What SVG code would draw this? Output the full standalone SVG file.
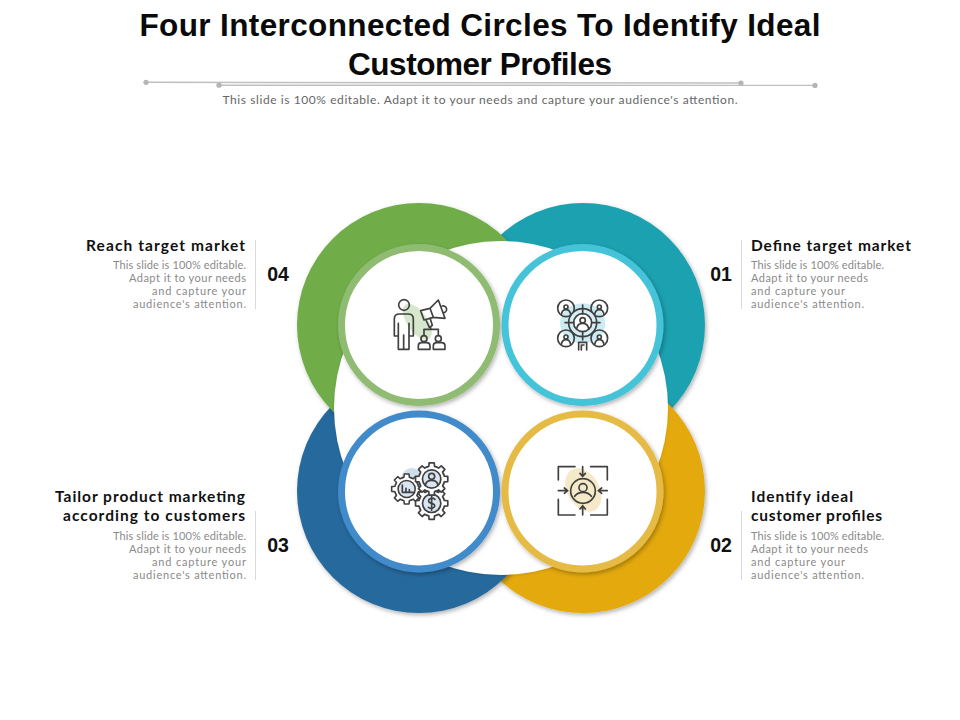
<svg xmlns="http://www.w3.org/2000/svg" xmlns:xlink="http://www.w3.org/1999/xlink" width="960" height="720" viewBox="0 0 960 720">
<style>
text{font-family:"Lato","Liberation Sans",sans-serif}
.title{font-family:"Liberation Sans",Arial,sans-serif;font-weight:700;font-size:31.5px;fill:#0a0a0a;text-anchor:middle}
.sub{font-size:12px;fill:#666;text-anchor:middle}
.h{font-weight:700;font-size:15.5px;fill:#111}
.b{font-size:11px;fill:#8a8a8a}
.n{font-family:"Liberation Sans",Arial,sans-serif;font-weight:700;font-size:19.5px;fill:#111;text-anchor:middle}
.e{text-anchor:end}
.big{filter:url(#s)}
.ring{fill:#fff;stroke-width:7;filter:url(#s)}
.ic{fill:none;stroke:#404040;stroke-width:5;stroke-linejoin:round;stroke-linecap:round}
.rule{stroke:#bfbfbf;stroke-width:1.4;fill:none}
.dot{fill:#b5b5b5}
.sep{stroke:#d9d9d9;stroke-width:1}
</style>
<defs>
<filter id="s" x="-15%" y="-15%" width="130%" height="130%"><feDropShadow dx="1.5" dy="2" stdDeviation="2" flood-color="#000" flood-opacity=".3"/></filter>
<filter id="w" x="-10%" y="-10%" width="120%" height="120%"><feDropShadow dx="0" dy="1" stdDeviation="1.5" flood-color="#000" flood-opacity=".12"/></filter>
<g id="gear">
<circle r="37" fill="#fff" stroke="none"/>
<g id="tooth-set">
<path id="t" d="M-14.5-35.1L-8.5-37L-7.5-47.4L7.5-47.4L8.5-37L14.5-35.1" fill="#fff"/>
<use xlink:href="#t" href="#t" transform="rotate(45)"/>
<use xlink:href="#t" href="#t" transform="rotate(90)"/>
<use xlink:href="#t" href="#t" transform="rotate(135)"/>
<use xlink:href="#t" href="#t" transform="rotate(180)"/>
<use xlink:href="#t" href="#t" transform="rotate(225)"/>
<use xlink:href="#t" href="#t" transform="rotate(270)"/>
<use xlink:href="#t" href="#t" transform="rotate(315)"/>
</g>
<circle r="27" fill="#d9e5f0"/>
</g>
</defs>
<rect width="960" height="720" fill="#fff"/>
<g id="header">
<text class="title" x="480" y="36" textLength="681" lengthAdjust="spacing">Four Interconnected Circles To Identify Ideal</text>
<text class="title" x="480" y="75" textLength="264" lengthAdjust="spacing">Customer Profiles</text>
<path class="rule" d="M146 82.3L741 83M219 85.2L815 85.4"/>
<circle class="dot" cx="146" cy="82.3" r="2.6"/><circle class="dot" cx="219" cy="85.2" r="2.6"/><circle class="dot" cx="741" cy="83" r="2.6"/><circle class="dot" cx="815" cy="85.4" r="2.6"/>
<text class="sub" x="480" y="104" textLength="515" lengthAdjust="spacing">This slide is 100% editable. Adapt it to your needs and capture your audience's attention.</text>
</g>
<g id="backdrop">
<circle class="big" cx="583" cy="325" r="122" fill="#1fa1b1"/>
<circle class="big" cx="583" cy="491" r="122" fill="#e3a911"/>
<circle class="big" cx="419" cy="491" r="122" fill="#26699d"/>
<circle class="big" cx="419" cy="325" r="122" fill="#6fad48"/>
<circle cx="501" cy="408" r="167" fill="#fff" filter="url(#w)"/>
</g>
<g id="node-04">
<circle class="ring" cx="419" cy="325" r="77.5" stroke="#8fbc72"/>
<g transform="translate(330 240) scale(.3333)">
<ellipse cx="262" cy="245" rx="30" ry="62" transform="rotate(-35 262 245)" fill="#d6e7cc"/>
<g class="ic">
<circle cx="222" cy="195" r="16"/>
<path d="M193 288V237Q193 222 208 222H235Q250 222 250 237V288H237V328H205V288ZM205 250V288M237 250V288M221 285V328"/>
<path d="M272 212L300 205L310 232L282 240ZM300 205L325 180L345 235L310 232M337 198A10 10 0 0 1 342 218M288 240L298 262L307 256L300 234"/>
<path d="M302 262V268M282 285V268H325V285"/>
<circle cx="282" cy="296" r="9"/><circle cx="325" cy="296" r="9"/>
<path d="M265 328V318Q265 308 275 308H290Q300 308 300 318V328ZM310 328V318Q310 308 320 308H335Q345 308 345 318V328Z"/>
</g></g>
<text class="h e" x="245" y="251" textLength="159" lengthAdjust="spacing">Reach target market</text>
<g class="b e">
<text x="246" y="269" textLength="133" lengthAdjust="spacing">This slide is 100% editable.</text>
<text x="246" y="282" textLength="117" lengthAdjust="spacing">Adapt it to your needs</text>
<text x="246" y="295" textLength="94" lengthAdjust="spacing">and capture your</text>
<text x="246" y="308" textLength="113" lengthAdjust="spacing">audience's attention.</text>
</g>
<line class="sep" x1="255.5" y1="240" x2="255.5" y2="309"/>
<text class="n" x="278" y="281">04</text>
</g>
<g id="node-01">
<circle class="ring" cx="582.5" cy="325" r="77.5" stroke="#45c3d8"/>
<g transform="translate(500 240) scale(.3333)">
<ellipse cx="248" cy="250" rx="68" ry="60" fill="#cdebf2"/>
<g class="ic">
<circle cx="198" cy="205" r="25"/><circle cx="298" cy="205" r="25"/><circle cx="198" cy="295" r="25"/><circle cx="298" cy="295" r="25"/>
<circle cx="198" cy="201" r="6"/><circle cx="298" cy="201" r="6"/><circle cx="198" cy="291" r="6"/><circle cx="298" cy="291" r="6"/>
<path d="M184 224Q186 209 198 209Q210 209 212 224M284 224Q286 209 298 209Q310 209 312 224M184 314Q186 299 198 299Q210 299 212 314M284 314Q286 299 298 299Q310 299 312 314"/>
<circle cx="248" cy="248" r="42" fill="#d5eef4"/>
<circle cx="248" cy="248" r="27" fill="#fff"/>
<circle cx="248" cy="241" r="8"/>
<path d="M230 267Q232 250 248 250Q264 250 266 267"/>
<path d="M248 195V222M248 275V300M195 248H222M275 248H300"/>
<path d="M236 330V307H260V330M244 330V315H252"/>
</g></g>
<text class="h" x="751" y="251" textLength="160" lengthAdjust="spacing">Define target market</text>
<g class="b">
<text x="751" y="269" textLength="133" lengthAdjust="spacing">This slide is 100% editable.</text>
<text x="751" y="282" textLength="117" lengthAdjust="spacing">Adapt it to your needs</text>
<text x="751" y="295" textLength="94" lengthAdjust="spacing">and capture your</text>
<text x="751" y="308" textLength="113" lengthAdjust="spacing">audience's attention.</text>
</g>
<line class="sep" x1="741.5" y1="240" x2="741.5" y2="309"/>
<text class="n" x="721" y="281">01</text>
</g>
<g id="node-03">
<circle class="ring" cx="419" cy="491.5" r="77.5" stroke="#428bca"/>
<g transform="translate(330 405) scale(.3333)">
<ellipse cx="245" cy="225" rx="32" ry="36" fill="#cfdeeb"/>
<g class="ic">
<use href="#gear" xlink:href="#gear" transform="translate(230 252) scale(.95)"/>
<use href="#gear" xlink:href="#gear" transform="translate(305 295) scale(1.02)"/>
<use href="#gear" xlink:href="#gear" transform="translate(305 222) scale(1.02)"/>
<path d="M217 240V262H250M228 262V250M238 262V254"/>
<circle cx="305" cy="214" r="9"/>
<path d="M286 241Q288 226 305 226Q322 226 324 241"/>
<path d="M315 283Q305 276 297 284Q293 292 305 295Q317 298 313 306Q305 314 295 307M305 274V316"/>
</g></g>
<text class="h e" x="245" y="502" textLength="190" lengthAdjust="spacing">Tailor product marketing</text>
<text class="h e" x="245" y="521" textLength="182" lengthAdjust="spacing">according to customers</text>
<g class="b e">
<text x="246" y="540" textLength="133" lengthAdjust="spacing">This slide is 100% editable.</text>
<text x="246" y="553" textLength="117" lengthAdjust="spacing">Adapt it to your needs</text>
<text x="246" y="566" textLength="94" lengthAdjust="spacing">and capture your</text>
<text x="246" y="579" textLength="113" lengthAdjust="spacing">audience's attention.</text>
</g>
<line class="sep" x1="255.5" y1="511" x2="255.5" y2="580"/>
<text class="n" x="278" y="552">03</text>
</g>
<g id="node-02">
<circle class="ring" cx="582.5" cy="491.5" r="77.5" stroke="#e6bb45"/>
<g transform="translate(500 405) scale(.3333)">
<ellipse cx="250" cy="255" rx="48" ry="70" transform="rotate(-30 250 255)" fill="#f4e9c8"/>
<g class="ic">
<path d="M175 225V185H225M272 185H322V225M175 283V330H225M272 330H322V283"/>
<path d="M248 185V213M240 205L248 214L256 205M248 330V303M240 312L248 302L256 312M175 257H202M193 249L203 257L193 265M322 257H296M305 249L295 257L305 265"/>
<circle cx="249" cy="258" r="37"/>
<circle cx="249" cy="248" r="12"/>
<path d="M224 274Q232 262 249 262Q266 262 274 274"/>
</g></g>
<text class="h" x="751" y="502" textLength="102" lengthAdjust="spacing">Identify ideal</text>
<text class="h" x="751" y="521" textLength="131" lengthAdjust="spacing">customer profiles</text>
<g class="b">
<text x="751" y="540" textLength="133" lengthAdjust="spacing">This slide is 100% editable.</text>
<text x="751" y="553" textLength="117" lengthAdjust="spacing">Adapt it to your needs</text>
<text x="751" y="566" textLength="94" lengthAdjust="spacing">and capture your</text>
<text x="751" y="579" textLength="113" lengthAdjust="spacing">audience's attention.</text>
</g>
<line class="sep" x1="741.5" y1="511" x2="741.5" y2="580"/>
<text class="n" x="721" y="552">02</text>
</g>
</svg>
